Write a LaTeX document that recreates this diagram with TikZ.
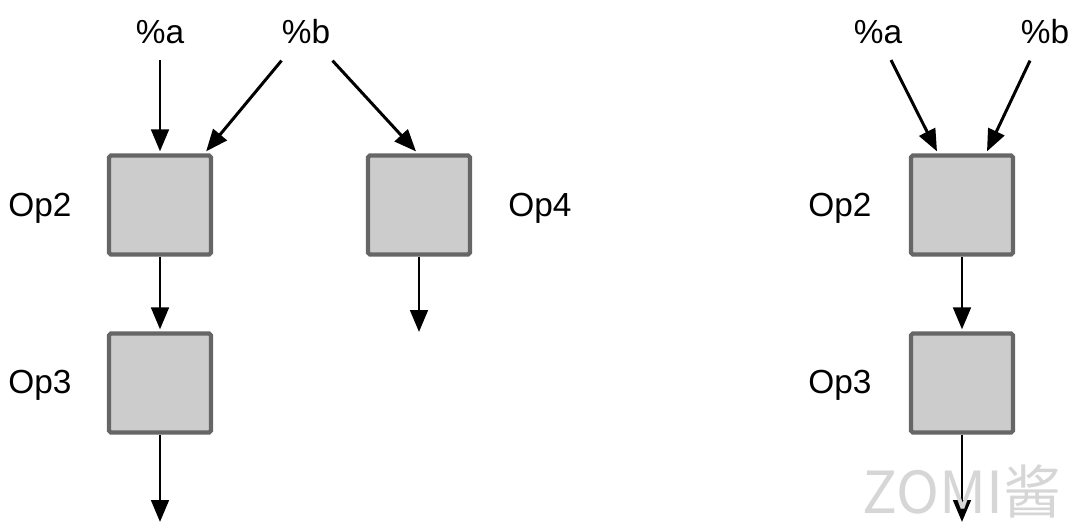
\documentclass[tikz,border=0pt]{standalone}
\usepackage{fontspec}
\setmainfont{Liberation Sans}
\newfontfamily\cjkfont{Noto Sans CJK SC}
\usetikzlibrary{arrows.meta,calc}
\begin{document}
\begin{tikzpicture}[x=0.02cm,y=-0.02cm,
  opbox/.style={draw=black!60,line width=2.4pt,fill=black!20,rounded corners=1pt,
    minimum width=2.04cm,minimum height=1.98cm,inner sep=0pt},
  lbl/.style={inner sep=0pt,font=\fontsize{19pt}{22pt}\selectfont},
  arr/.style={line width=1.7pt,-{Triangle[length=12.5pt,width=10pt]}},
  wmtext/.style={inner sep=0pt,text=black!16,font=\cjkfont\fontsize{33pt}{36pt}\selectfont}]
\useasboundingbox (0,0) rectangle (1080,528);

% ---- left graph: %b feeds both Op2 and Op4 ----
\node[opbox] (lop2) at (160,205) {};
\node[opbox] (lop3) at (160,383) {};
\node[opbox] (lop4) at (419,205) {};
\node[lbl] (la) at (160,32) {\%a};
\node[lbl] (lb) at (306,32) {\%b};
\node[lbl] (tl2) at (40,208) {Op2};
\node[lbl] (tl3) at (40,385) {Op3};
\node[lbl] (tl4) at (540,208) {Op4};
\coordinate (lend3) at (160,522);
\coordinate (lend4) at (419,332);

\draw[arr] ($(la.south)+(0,16)$) -- ($(lop2.north)+(0,-2)$);
\draw[arr] ($(lb.south west)+(0,16)$) -- ($(lop2.north east)+(-7,-2)$);
\draw[arr] ($(lb.south east)+(2,16)$) -- ($(lop4.north)+(-3,-2)$);
\draw[arr] (lop2.south) -- ($(lop3.north)+(0,-2)$);
\draw[arr] (lop3.south) -- (lend3);
\draw[arr] (lop4.south) -- (lend4);

% ---- right graph: Op2 reads %a and %b ----
\node[opbox] (rop2) at (962,205) {};
\node[opbox] (rop3) at (962,383) {};
\node[lbl] (ra) at (878,32) {\%a};
\node[lbl] (rb) at (1045,32) {\%b};
\node[lbl] (tr2) at (840,208) {Op2};
\node[lbl] (tr3) at (840,385) {Op3};
\coordinate (rend3) at (962,522);

\draw[arr] ($(ra.south)+(13,16)$) -- ($(rop2.north)+(-25,-2)$);
\draw[arr] ($(rb.south)+(-15,16)$) -- ($(rop2.north)+(25,-2)$);
\draw[arr] (rop2.south) -- ($(rop3.north)+(0,-2)$);
\draw[arr] (rop3.south) -- (rend3);

% ---- watermark ----
\node[wmtext] (wm) at (962,491) {ZOMI酱};
\end{tikzpicture}
\end{document}
